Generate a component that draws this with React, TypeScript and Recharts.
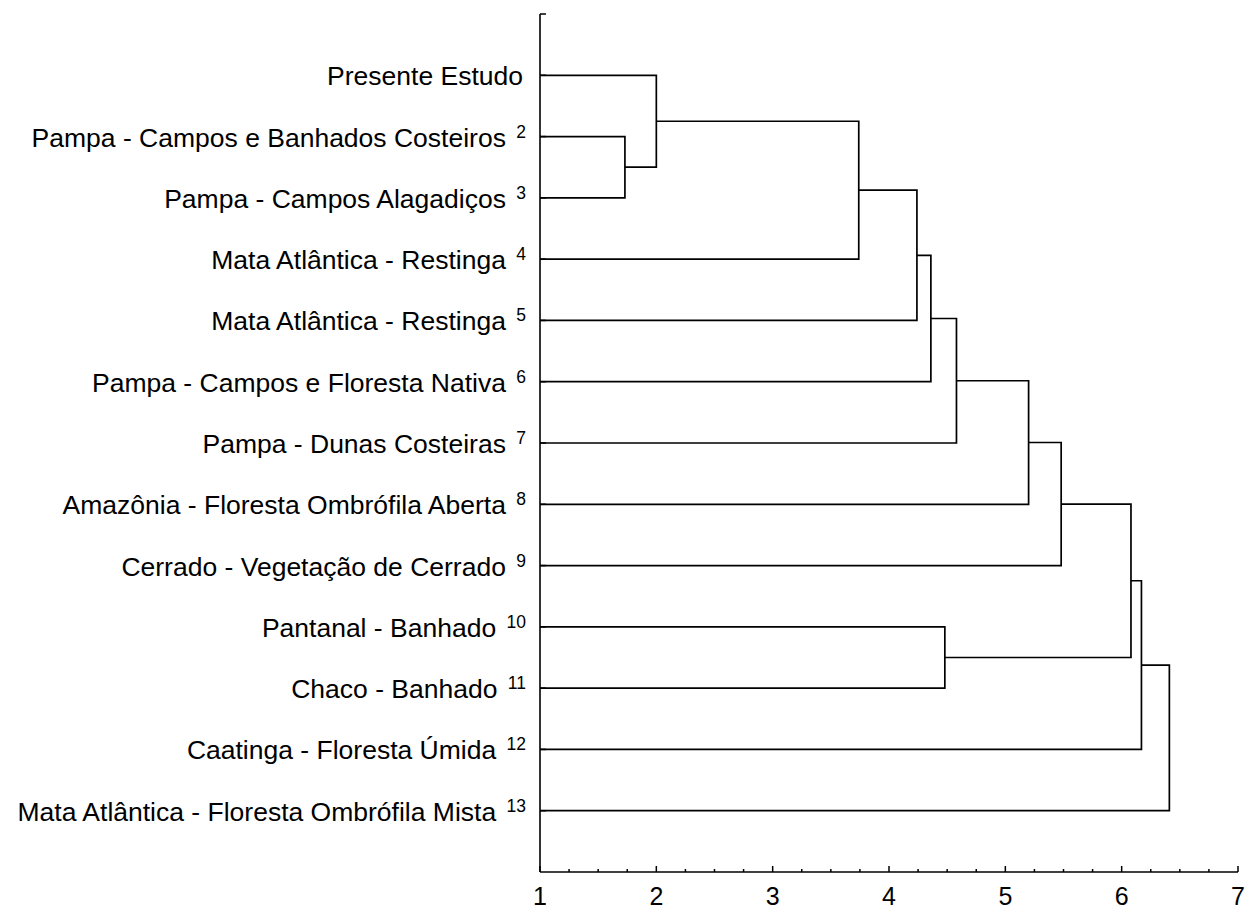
import React from 'react';
import { ScatterChart, Scatter, XAxis, YAxis } from 'recharts';

const labels = [
  'Presente Estudo',
  'Pampa - Campos e Banhados Costeiros',
  'Pampa - Campos Alagadiços',
  'Mata Atlântica - Restinga',
  'Mata Atlântica - Restinga',
  'Pampa - Campos e Floresta Nativa',
  'Pampa - Dunas Costeiras',
  'Amazônia - Floresta Ombrófila Aberta',
  'Cerrado - Vegetação de Cerrado',
  'Pantanal - Banhado',
  'Chaco - Banhado',
  'Caatinga - Floresta Úmida',
  'Mata Atlântica - Floresta Ombrófila Mista',
];
const superscripts = ['', '2', '3', '4', '5', '6', '7', '8', '9', '10', '11', '12', '13'];

// merges: node ids 0..12 are leaves, 13+ are clusters created in order
const mergeA = [1, 0, 14, 15, 16, 17, 18, 19, 9, 20, 22, 23];
const mergeB = [2, 13, 3, 4, 5, 6, 7, 8, 10, 21, 11, 12];
const mergeHeights = [1.73, 2.0, 3.74, 4.24, 4.36, 4.58, 5.2, 5.48, 4.48, 6.08, 6.17, 6.41];

const xTicksMajor = [1, 2, 3, 4, 5, 6, 7];
const xTicksAll = [
  1, 1.25, 1.5, 1.75, 2, 2.25, 2.5, 2.75, 3, 3.25, 3.5, 3.75, 4, 4.25, 4.5, 4.75,
  5, 5.25, 5.5, 5.75, 6, 6.25, 6.5, 6.75, 7,
];
const yTicks = [0, 1, 2, 3, 4, 5, 6, 7, 8, 9, 10, 11, 12, 13];

const FONT = '"Liberation Sans", Arial, Helvetica, sans-serif';

function buildLinks() {
  const nodeX: number[] = labels.map(() => 1);
  const nodeY: number[] = labels.map((_, i) => i + 1);
  const links: { x: number; y: number }[][] = [];
  mergeA.forEach((a, i) => {
    const b = mergeB[i];
    const h = mergeHeights[i];
    links.push([
      { x: nodeX[a], y: nodeY[a] },
      { x: h, y: nodeY[a] },
      { x: h, y: nodeY[b] },
      { x: nodeX[b], y: nodeY[b] },
    ]);
    nodeX.push(h);
    nodeY.push((nodeY[a] + nodeY[b]) / 2);
  });
  return links;
}

const links = buildLinks();

const XTick = (props: any) => {
  const { x, y, payload } = props;
  const v = payload.value;
  const major = Math.abs(v - Math.round(v)) < 1e-6;
  return (
    <g>
      <line x1={x} x2={x} y1={y} y2={y - (major ? 6 : 3)} stroke="#000" strokeWidth={1.5} />
      {major && xTicksMajor.includes(Math.round(v)) ? (
        <text x={x} y={y + 33} textAnchor="middle" fontSize={25} fontFamily={FONT} fill="#000">
          {Math.round(v)}
        </text>
      ) : null}
    </g>
  );
};

const YTick = (props: any) => {
  const { x, y, payload } = props;
  const idx = payload.value - 1;
  const label = labels[idx];
  const sup = superscripts[idx];
  return (
    <g>
      <line x1={x} x2={x + 6} y1={y} y2={y} stroke="#000" strokeWidth={1.5} />
      {label ? (
        <text
          x={sup ? x - 14 : x - 17}
          y={y + 10}
          textAnchor="end"
          fontSize={26.5}
          fontFamily={FONT}
          fill="#000"
        >
          <tspan>{sup ? label + ' ' : label}</tspan>
          {sup ? (
            <tspan fontSize={17.5} dy={-9} dx={3}>
              {sup}
            </tspan>
          ) : null}
        </text>
      ) : null}
    </g>
  );
};

export default function App() {
  return (
    <div style={{ position: 'absolute', left: 0, top: 0, background: '#fff' }}>
      <ScatterChart
        width={1249}
        height={912}
        margin={{ top: 14, right: 11, bottom: 0, left: 0 }}
      >
        <XAxis
          type="number"
          dataKey="x"
          domain={[1, 7]}
          ticks={xTicksAll}
          interval={0}
          allowDataOverflow
          height={40}
          tickLine={false}
          tickSize={0}
          tickMargin={0}
          axisLine={{ stroke: '#000', strokeWidth: 1.6 }}
          tick={<XTick />}
        />
        <YAxis
          type="number"
          dataKey="y"
          domain={[0, 14]}
          reversed
          ticks={yTicks}
          interval={0}
          allowDataOverflow
          width={540}
          tickLine={false}
          tickSize={0}
          tickMargin={0}
          axisLine={{ stroke: '#000', strokeWidth: 1.6 }}
          tick={<YTick />}
        />
        {links.map((pts, i) => (
          <Scatter
            key={i}
            data={pts}
            line={{ stroke: '#000', strokeWidth: 1.7 }}
            lineType="joint"
            shape={() => <g />}
            isAnimationActive={false}
          />
        ))}
      </ScatterChart>
    </div>
  );
}
